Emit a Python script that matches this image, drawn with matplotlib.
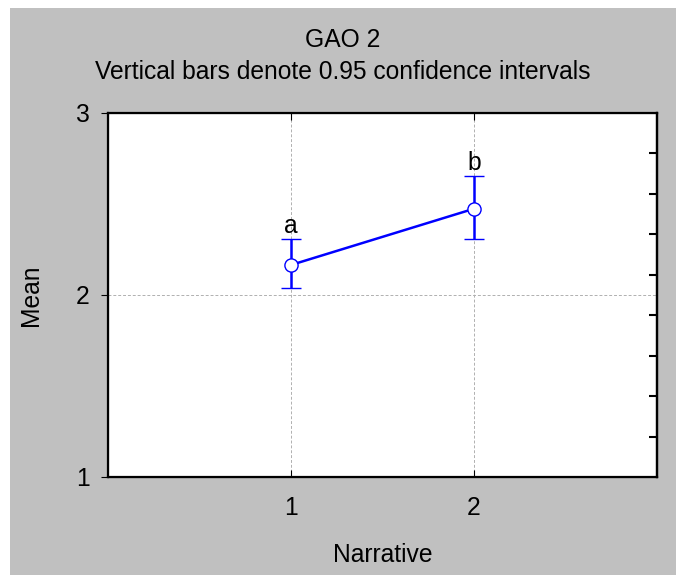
import numpy as np
import matplotlib
matplotlib.use('Agg')
import matplotlib.pyplot as plt
from matplotlib.patches import Rectangle

plt.rcParams['font.family'] = ['Liberation Sans', 'DejaVu Sans']

# ── data ──────────────────────────────────────────────────────────────────────
groups = [1, 2]
means  = [2.165, 2.474]
ci_lo  = [2.040, 2.306]
ci_hi  = [2.306, 2.654]
letters = ["a", "b"]

BLUE = "#0000ff"
GRAY = "#c0c0c0"
FS = 17.7

fig = plt.figure(figsize=(6.85, 5.81), dpi=100)
fig.patch.set_facecolor("white")
fig.patches.append(Rectangle((10 / 685, 6 / 581), 666 / 685, 567 / 581,
                             transform=fig.transFigure, facecolor=GRAY,
                             edgecolor="none", zorder=-10))

ax = fig.add_axes([108 / 685, 1 - 477 / 581, 549 / 685, 364 / 581])
ax.set_facecolor("white")

yerr = [np.array(means) - np.array(ci_lo), np.array(ci_hi) - np.array(means)]
ax.errorbar(groups, means, yerr=yerr, color=BLUE, lw=1.8, capsize=7, capthick=2,
            marker="o", ms=9.5, mfc="white", mec=BLUE, mew=1.0, zorder=3)
for g, hi, lab in zip(groups, ci_hi, letters):
    ax.annotate(lab, xy=(g, hi), xytext=(0, 1), textcoords="offset points",
                ha="center", va="bottom", fontsize=FS)

ax.set_xlim(0, 3)
ax.set_ylim(1, 3)
ax.set_xticks(groups)
ax.set_yticks([1, 2, 3])
ax.tick_params(axis="both", labelsize=FS, colors="black")
ax.tick_params(axis="x", direction="in", length=5, top=True, pad=14)
ax.tick_params(axis="y", direction="out", length=5, pad=8)
ax.grid(True, ls=(0, (3, 2)), color="#b0b0b0", lw=0.7)
for s in ax.spines.values():
    s.set_linewidth(1.6)

# inward ticks on the right side
axr = ax.twinx()
axr.set_ylim(1, 3)
axr.set_yticks(np.linspace(1, 3, 10)[1:-1])
axr.set_yticklabels([])
axr.tick_params(axis="y", direction="in", length=6, width=1.5)
axr.spines["right"].set_linewidth(1.6)

ax.set_xlabel("Narrative", fontsize=FS, labelpad=16)
ax.set_ylabel("Mean", fontsize=FS, labelpad=24)
fig.text(0.5, 1 - 40 / 581, "GAO 2", ha="center", va="center", fontsize=FS)
fig.text(0.5, 1 - 72 / 581, "Vertical bars denote 0.95 confidence intervals",
         ha="center", va="center", fontsize=FS)

plt.savefig("out.png", dpi=100)
plt.close()
